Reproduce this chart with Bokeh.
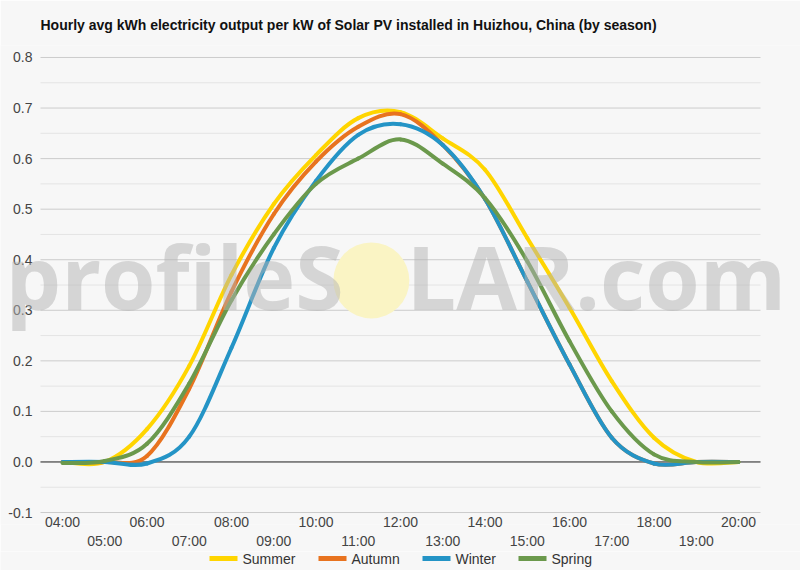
from bokeh.plotting import figure
from bokeh.layouts import column
from bokeh.models import Range1d, FixedTicker, LinearAxis, Label
from bokeh.embed import file_html
from bokeh.resources import INLINE

# hours of the day, 04:00 .. 20:00
hours = [4, 5, 6, 7, 8, 9, 10, 11, 12, 13, 14, 15, 16, 17, 18, 19, 20]
hour_labels = ["04:00", "05:00", "06:00", "07:00", "08:00", "09:00", "10:00", "11:00",
               "12:00", "13:00", "14:00", "15:00", "16:00", "17:00", "18:00", "19:00", "20:00"]

# avg kWh per kW
summer = [0.0, 0.0, 0.065, 0.19, 0.37, 0.51, 0.607, 0.68, 0.692, 0.64, 0.578, 0.443, 0.305, 0.16, 0.048, 0.0, 0.0]
autumn = [0.0, 0.0, 0.012, 0.145, 0.337, 0.49, 0.594, 0.663, 0.688, 0.627, 0.52, 0.357, 0.193, 0.048, -0.003, 0.0, 0.0]
winter = [0.0, 0.0, -0.003, 0.05, 0.226, 0.423, 0.556, 0.647, 0.668, 0.627, 0.52, 0.357, 0.193, 0.048, -0.003, 0.0, 0.0]
spring = [-0.002, 0.002, 0.036, 0.155, 0.32, 0.45, 0.55, 0.60, 0.638, 0.59, 0.522, 0.397, 0.239, 0.10, 0.015, 0.0, 0.0]

y_ticks = [-0.1, 0.0, 0.1, 0.2, 0.3, 0.4, 0.5, 0.6, 0.7, 0.8]
y_labels = ["-0.1", "0.0", "0.1", "0.2", "0.3", "0.4", "0.5", "0.6", "0.7", "0.8"]

series = [("Summer", summer, "#ffd500"),
          ("Autumn", autumn, "#e8731f"),
          ("Winter", winter, "#2494c6"),
          ("Spring", spring, "#6b994c")]

FONT = "Liberation Sans"
BG = "#f7f7f7"
# plot area in hours; the frame is wider/taller so the watermark and edge labels fit
PX0, PX1 = 3.479, 20.521
FX0, FX1 = 2.5323, 21.4677
FY0, FY1 = -0.1237, 0.8237


def smooth_segments(xs, ys, k=6.0):
    # catmull-rom style control points for bezier segments between the data points
    n = len(xs)
    seg = dict(x0=[], y0=[], x1=[], y1=[], cx0=[], cy0=[], cx1=[], cy1=[])
    for i in range(n - 1):
        p0 = max(i - 1, 0)
        p3 = min(i + 2, n - 1)
        seg["x0"].append(xs[i]); seg["y0"].append(ys[i])
        seg["x1"].append(xs[i + 1]); seg["y1"].append(ys[i + 1])
        seg["cx0"].append(xs[i] + (xs[i + 1] - xs[p0]) / k)
        seg["cy0"].append(ys[i] + (ys[i + 1] - ys[p0]) / k)
        seg["cx1"].append(xs[i + 1] - (xs[p3] - xs[i]) / k)
        seg["cy1"].append(ys[i + 1] - (ys[p3] - ys[i]) / k)
    return seg


p = figure(width=800, height=551, output_backend="svg", toolbar_location=None,
           x_range=Range1d(FX0, FX1), y_range=Range1d(FY0, FY1), y_axis_type=None,
           min_border_left=0, min_border_right=0, min_border_top=45, min_border_bottom=27,
           background_fill_color=BG, border_fill_color=BG, outline_line_color=None)

p.title.text = "Hourly avg kWh electricity output per kW of Solar PV installed in Huizhou, China (by season)"
p.title.text_font = FONT
p.title.text_font_size = "14px"
p.title.text_font_style = "bold"
p.title.text_color = "#111111"
p.title.standoff = 25
p.title.offset = 40
p.xgrid.grid_line_color = None

# horizontal grid and y labels, kept inside the plot area
minor = [t + 0.05 for t in y_ticks[:-1]]
p.segment(x0=PX0, x1=PX1, y0=minor, y1=minor, line_color="#e4e4e4", line_width=1)
p.segment(x0=PX0, x1=PX1, y0=y_ticks, y1=y_ticks, line_color="#cccccc", line_width=1)
p.segment(x0=PX0, x1=PX1, y0=[0.0], y1=[0.0], line_color="#333333", line_width=1)
p.text(x=PX0, y=y_ticks, text=y_labels, x_offset=-8, text_align="right",
       text_baseline="middle", text_font={"value": FONT}, text_font_size="14px",
       text_color="#444444")

# x axis: even hours on the first row, odd hours on the second
even_ax = p.xaxis[0]
even_ax.ticker = FixedTicker(ticks=hours[::2])
even_ax.major_label_overrides = {h: l for h, l in zip(hours[::2], hour_labels[::2])}
odd_ax = LinearAxis(ticker=FixedTicker(ticks=hours[1::2]),
                    major_label_overrides={h: l for h, l in zip(hours[1::2], hour_labels[1::2])})
p.add_layout(odd_ax, "below")
for ax, so in ((even_ax, -11), (odd_ax, 0)):
    ax.axis_line_color = None
    ax.major_tick_line_color = None
    ax.minor_tick_line_color = None
    ax.major_tick_out = 0
    ax.minor_tick_out = 0
    ax.major_label_text_font = FONT
    ax.major_label_text_font_size = "14px"
    ax.major_label_text_color = "#444444"
    ax.major_label_standoff = so

# watermark sun
p.scatter(x=[11.31], y=[0.359], size=76, marker="circle",
          fill_color="#faf4c4", line_color=None)

for name, vals, color in series:
    p.bezier(line_color=color, line_width=4, line_cap="round",
             **smooth_segments(hours, vals))

# watermark text
for txt, xpos in (("profileS", 2.65), ("LAR.com", 12.14)):
    p.add_layout(Label(x=xpos, y=0.367, text=txt, text_font="Open Sans",
                       text_font_style="bold", text_font_size="88px",
                       text_color="#b3b3b3", text_alpha=0.5, text_baseline="alphabetic"))

# legend strip under the chart, drawn by hand (pixel coordinates)
lg = figure(width=800, height=19, output_backend="svg", toolbar_location=None,
            x_range=Range1d(0, 800), y_range=Range1d(0, 19), x_axis_type=None, y_axis_type=None,
            min_border=0, background_fill_color=BG, border_fill_color=BG, outline_line_color=None)
lg.grid.visible = False
swatch_x = [209, 318, 422, 518]
lg.segment(x0=swatch_x, x1=[s + 28 for s in swatch_x], y0=12, y1=12,
           line_color=[c for _, _, c in series], line_width=5)
lg.text(x=[s + 33 for s in swatch_x], y=12, text=[n for n, _, _ in series],
        text_baseline="middle", text_font={"value": FONT}, text_font_size="14px",
        text_color="#333333")

open("out.html", "w").write(file_html(column(p, lg), INLINE))
